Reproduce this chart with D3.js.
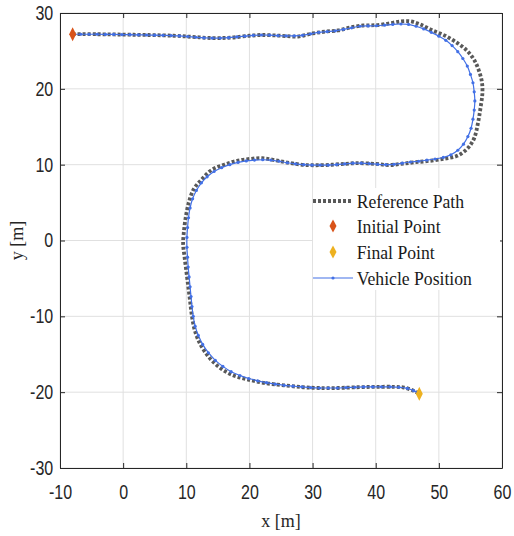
<!DOCTYPE html>
<html>
  <head>
    <meta charset="UTF-8" />
    <script src="https://d3js.org/d3.v7.min.js"></script>
    <style>
      body { margin: 0; background: #fff; }
    </style>
  </head>
  <body>
    <div id="my_dataviz"></div>

    <script>
      // axis ranges and tick labels
      var xTicks = [-10, 0, 10, 20, 30, 40, 50, 60];
      var yTicks = [-30, -20, -10, 0, 10, 20, 30];

      // reference path [x, y] in metres
      var refPath = [
        [-8, 27.2], [-4, 27.2], [0, 27.15], [4, 27.1], [8, 27.0], [11, 26.85],
        [14, 26.7], [17, 26.75], [20, 27.0], [22, 27.1], [25, 27.0], [27.7, 26.9],
        [30, 27.3], [32, 27.55], [34, 27.7], [36, 28.1], [38, 28.35], [40, 28.4],
        [42, 28.6], [44, 28.9], [45.5, 28.9], [47, 28.5], [49, 27.7], [51, 27.0],
        [53, 26.0], [54.5, 25.0], [55.6, 23.8], [56.3, 22.5], [56.8, 21], [56.9, 19.5],
        [56.6, 17.5], [56.2, 15.5], [55.6, 13.5], [54.6, 12.2], [53, 11.2], [51, 10.8],
        [48.5, 10.5], [46, 10.3], [44, 10.1], [42, 9.95], [40, 10.1], [37, 10.2],
        [35, 10.1], [32, 9.95], [29, 9.95], [26.5, 10.2], [24, 10.6], [22, 10.85],
        [20, 10.75], [18, 10.5], [16, 10.0], [14, 9.3], [12.5, 8.1], [11.2, 6.8],
        [10.4, 5], [9.9, 3], [9.6, 1], [9.5, -0.5], [9.7, -2], [10.0, -4],
        [10.3, -6], [10.6, -8], [10.9, -10], [11.4, -12], [12.3, -13.8], [13.6, -15.4],
        [15.2, -16.7], [17.2, -17.7], [19.6, -18.3], [22.5, -18.8], [25.5, -19.1],
        [28.5, -19.35], [31, -19.45], [34, -19.45], [37, -19.35], [40, -19.3],
        [43, -19.3], [44.5, -19.4], [46, -19.8], [46.9, -20.2]
      ];

      // vehicle position samples [x, y]
      var vehiclePath = [
        [-8, 27.2], [-6.7, 27.2], [-5.4, 27.2], [-4.1, 27.2], [-2.8, 27.18], [-1.5, 27.17],
        [-0.2, 27.15], [1.1, 27.14], [2.4, 27.12], [3.7, 27.1], [5, 27.08], [6.3, 27.05],
        [7.6, 27.02], [8.9, 26.98], [10.2, 26.9], [11.5, 26.8], [12.8, 26.72], [14.1, 26.7],
        [15.4, 26.7], [16.7, 26.75], [18, 26.85], [19.3, 26.95], [20.6, 27.05], [21.9, 27.1],
        [23.2, 27.08], [24.5, 27.02], [25.8, 26.98], [27.1, 26.98], [28.4, 27.05], [29.7, 27.25],
        [31, 27.45], [32.3, 27.55], [33.6, 27.65], [34.9, 27.85], [36.2, 28.05], [37.5, 28.25],
        [38.8, 28.3], [40.1, 28.32], [41.4, 28.4], [42.7, 28.5], [44, 28.55], [45.2, 28.5],
        [46.4, 28.25], [47.6, 27.9], [48.8, 27.45], [50, 26.95], [51.1, 26.4], [52.1, 25.7],
        [53, 24.9], [53.8, 24.0], [54.5, 23.0], [55, 21.9], [55.4, 20.8], [55.6, 19.6],
        [55.7, 18.4], [55.6, 17.2], [55.4, 16.0], [55.1, 14.8], [54.6, 13.7], [53.9, 12.7],
        [53, 11.9], [51.9, 11.3], [50.7, 10.95], [49.4, 10.75], [48.1, 10.6], [46.8, 10.45],
        [45.5, 10.35], [44.2, 10.2], [42.9, 10.05], [41.6, 10.0], [40.3, 10.05], [39, 10.15],
        [37.7, 10.2], [36.4, 10.2], [35.1, 10.1], [33.8, 10.0], [32.5, 9.95], [31.2, 9.95],
        [29.9, 9.95], [28.6, 10.0], [27.3, 10.1], [26, 10.25], [24.7, 10.45], [23.4, 10.6],
        [22.1, 10.65], [20.8, 10.6], [19.5, 10.5], [18.2, 10.3], [16.9, 10.0], [15.6, 9.6],
        [14.4, 9.1], [13.3, 8.4], [12.4, 7.6], [11.6, 6.6], [11.0, 5.5], [10.6, 4.3],
        [10.35, 3.0], [10.2, 1.7], [10.1, 0.4], [10.1, -0.9], [10.2, -2.2], [10.3, -3.5],
        [10.45, -4.8], [10.6, -6.1], [10.75, -7.4], [10.9, -8.7], [11.1, -10.0], [11.4, -11.3],
        [11.9, -12.5], [12.6, -13.7], [13.5, -14.8], [14.6, -15.8], [15.8, -16.6], [17.1, -17.3],
        [18.5, -17.8], [19.9, -18.2], [21.3, -18.5], [22.7, -18.75], [24.1, -18.95], [25.5, -19.1],
        [26.9, -19.2], [28.3, -19.3], [29.7, -19.4], [31.1, -19.45], [32.5, -19.45], [33.9, -19.45],
        [35.3, -19.4], [36.7, -19.35], [38.1, -19.3], [39.5, -19.3], [40.9, -19.3], [42.3, -19.3],
        [43.7, -19.35], [45, -19.5], [46, -19.8], [46.8, -20.15]
      ];

      var initialPoint = [-8, 27.2];
      var finalPoint = [46.9, -20.2];

      var legendLabels = ["Reference Path", "Initial Point", "Final Point", "Vehicle Position"];

      var margin = { top: 13, right: 12, bottom: 68, left: 60 },
        width = 514 - margin.left - margin.right,
        height = 536 - margin.top - margin.bottom;

      var axisColor = "#262626";
      var refColor = "#595959";
      var vehColor = "#4270e6";
      var initColor = "#d95319";
      var finalColor = "#edb120";
      var serif = "'Liberation Serif', 'Times New Roman', serif";

      var svg = d3
        .select("#my_dataviz")
        .append("svg")
        .attr("width", width + margin.left + margin.right)
        .attr("height", height + margin.top + margin.bottom);

      var g = svg
        .append("g")
        .attr("transform", "translate(" + margin.left + "," + margin.top + ")");

      var xScale = d3.scaleLinear().domain([-10, 60]).range([0, width]);
      var yScale = d3.scaleLinear().domain([-30, 30]).range([height, 0]);

      // grid
      g.append("g")
        .selectAll("line")
        .data(xTicks)
        .join("line")
        .attr("x1", (d) => xScale(d))
        .attr("x2", (d) => xScale(d))
        .attr("y1", 0)
        .attr("y2", height)
        .attr("stroke", "#e0e0e0");
      g.append("g")
        .selectAll("line")
        .data(yTicks)
        .join("line")
        .attr("x1", 0)
        .attr("x2", width)
        .attr("y1", (d) => yScale(d))
        .attr("y2", (d) => yScale(d))
        .attr("stroke", "#e0e0e0");

      var line = d3
        .line()
        .x((d) => xScale(d[0]))
        .y((d) => yScale(d[1]))
        .curve(d3.curveCatmullRom);

      // reference path
      g.append("path")
        .attr("d", line(refPath))
        .attr("fill", "none")
        .attr("stroke", refColor)
        .attr("stroke-width", 3.8)
        .attr("stroke-dasharray", "3,2");

      // vehicle
      g.append("path")
        .attr("d", line(vehiclePath))
        .attr("fill", "none")
        .attr("stroke", vehColor)
        .attr("stroke-width", 1.2);
      g.append("g")
        .selectAll("circle")
        .data(vehiclePath)
        .join("circle")
        .attr("cx", (d) => xScale(d[0]))
        .attr("cy", (d) => yScale(d[1]))
        .attr("r", 1.6)
        .attr("fill", vehColor);

      function diamond(cx, cy, w, h) {
        var p = d3.path();
        p.moveTo(cx, cy - h / 2);
        p.lineTo(cx + w / 2, cy);
        p.lineTo(cx, cy + h / 2);
        p.lineTo(cx - w / 2, cy);
        p.closePath();
        return p.toString();
      }

      g.append("path")
        .attr("d", diamond(xScale(initialPoint[0]), yScale(initialPoint[1]), 7, 14))
        .attr("fill", initColor);
      g.append("path")
        .attr("d", diamond(xScale(finalPoint[0]), yScale(finalPoint[1]), 7, 14))
        .attr("fill", finalColor);

      // axes, ticks pointing inwards on all four sides
      var squeeze = "scale(0.8,1)";
      var plain = (d) => String(d);

      var xAxis = g
        .append("g")
        .attr("transform", "translate(0," + height + ")")
        .call(d3.axisBottom(xScale).tickValues(xTicks).tickFormat(plain).tickSizeInner(-5).tickSizeOuter(0).tickPadding(17));
      var yAxis = g
        .append("g")
        .call(d3.axisLeft(yScale).tickValues(yTicks).tickFormat(plain).tickSizeInner(-5).tickSizeOuter(0).tickPadding(8.5));
      var topAxis = g
        .append("g")
        .call(d3.axisTop(xScale).tickValues(xTicks).tickSizeInner(-5).tickSizeOuter(0).tickFormat(""));
      var rightAxis = g
        .append("g")
        .attr("transform", "translate(" + width + ",0)")
        .call(d3.axisRight(yScale).tickValues(yTicks).tickSizeInner(-5).tickSizeOuter(0).tickFormat(""));

      [xAxis, yAxis, topAxis, rightAxis].forEach(function (a) {
        a.select(".domain").attr("stroke", axisColor);
        a.selectAll(".tick line").attr("stroke", axisColor);
        a.selectAll(".tick text")
          .attr("fill", axisColor)
          .attr("font-family", "'Liberation Sans', Arial, sans-serif")
          .attr("font-size", 20)
          .attr("transform", squeeze);
      });

      // axis titles
      svg
        .append("text")
        .attr("x", margin.left + xScale(25))
        .attr("y", 527)
        .attr("text-anchor", "middle")
        .attr("font-family", serif)
        .attr("font-size", 18)
        .attr("fill", axisColor)
        .text("x [m]");
      svg
        .append("text")
        .attr("transform", "translate(23," + (margin.top + yScale(0)) + ") rotate(-90)")
        .attr("text-anchor", "middle")
        .attr("font-family", serif)
        .attr("font-size", 18)
        .attr("fill", axisColor)
        .text("y [m]");

      // legend
      var legend = svg.append("g").attr("transform", "translate(313,188)");
      legend
        .append("rect")
        .attr("width", 187)
        .attr("height", 102)
        .attr("fill", "#fff");

      var rowY = [13, 38, 64, 90];
      legend
        .selectAll("text")
        .data(legendLabels)
        .join("text")
        .attr("x", 47)
        .attr("y", (d, i) => rowY[i])
        .attr("dy", "0.35em")
        .attr("font-family", serif)
        .attr("font-size", 19)
        .attr("fill", "#1a1a1a")
        .attr("transform", "scale(0.93,1)")
        .text((d) => d);

      legend
        .append("line")
        .attr("x1", 0)
        .attr("x2", 40)
        .attr("y1", rowY[0])
        .attr("y2", rowY[0])
        .attr("stroke", refColor)
        .attr("stroke-width", 3.8)
        .attr("stroke-dasharray", "3,2");
      legend
        .append("path")
        .attr("d", diamond(20, rowY[1], 7, 13))
        .attr("fill", initColor);
      legend
        .append("path")
        .attr("d", diamond(20, rowY[2], 7, 13))
        .attr("fill", finalColor);
      legend
        .append("line")
        .attr("x1", 0)
        .attr("x2", 40)
        .attr("y1", rowY[3])
        .attr("y2", rowY[3])
        .attr("stroke", vehColor)
        .attr("stroke-width", 1.2);
      legend
        .append("circle")
        .attr("cx", 20)
        .attr("cy", rowY[3])
        .attr("r", 1.6)
        .attr("fill", vehColor);
    </script>
  </body>
</html>
